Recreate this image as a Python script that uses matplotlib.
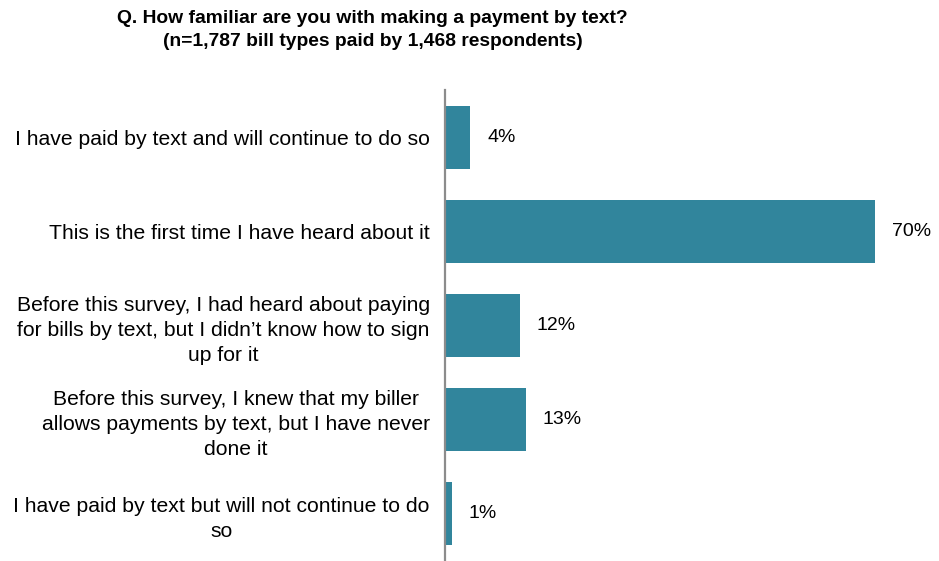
import matplotlib
matplotlib.use("Agg")
import matplotlib.pyplot as plt

# answers, top to bottom
categories = [
    "I have paid by text and will continue to do so",
    "This is the first time I have heard about it",
    "Before this survey, I had heard about paying\nfor bills by text, but I didn\u2019t know how to sign\nup for it",
    "Before this survey, I knew that my biller\nallows payments by text, but I have never\ndone it",
    "I have paid by text but will not continue to do\nso",
]
shares = [4, 70, 12, 13, 1]
value_labels = ["4%", "70%", "12%", "13%", "1%"]

title = ("Q. How familiar are you with making a payment by text?\n"
         "(n=1,787 bill types paid by 1,468 respondents)")

plt.rcParams["font.family"] = ["Liberation Sans", "DejaVu Sans"]

fig = plt.figure(figsize=(9.39, 5.61), dpi=100)
ax = fig.add_axes([445 / 939, 0, 494 / 939, 471 / 561])

ypos = list(range(len(categories)))
ax.barh(ypos, shares, height=0.67, color="#31859C", left=0.15)

for y, v, lab in zip(ypos, shares, value_labels):
    ax.annotate(lab, (v + 0.15, y), xytext=(12, 0), textcoords="offset points",
                va="center", ha="left", fontsize=14)

ax.set_xlim(0, 80.5)
ax.set_ylim(len(categories) - 0.5, -0.5)
ax.set_yticks(ypos)
ax.set_yticklabels(categories, fontsize=15.2, multialignment="center",
                   linespacing=1.4)
ax.tick_params(axis="y", length=0, pad=11)
ax.set_xticks([])

for side in ["top", "right", "bottom"]:
    ax.spines[side].set_visible(False)
ax.spines["left"].set_color("#8c8c8c")
ax.spines["left"].set_linewidth(1.6)

fig.text(0.397, 0.982, title, ha="center", va="top", fontsize=13.9,
         fontweight="bold", linespacing=1.45)

fig.savefig("out.png", dpi=100)
